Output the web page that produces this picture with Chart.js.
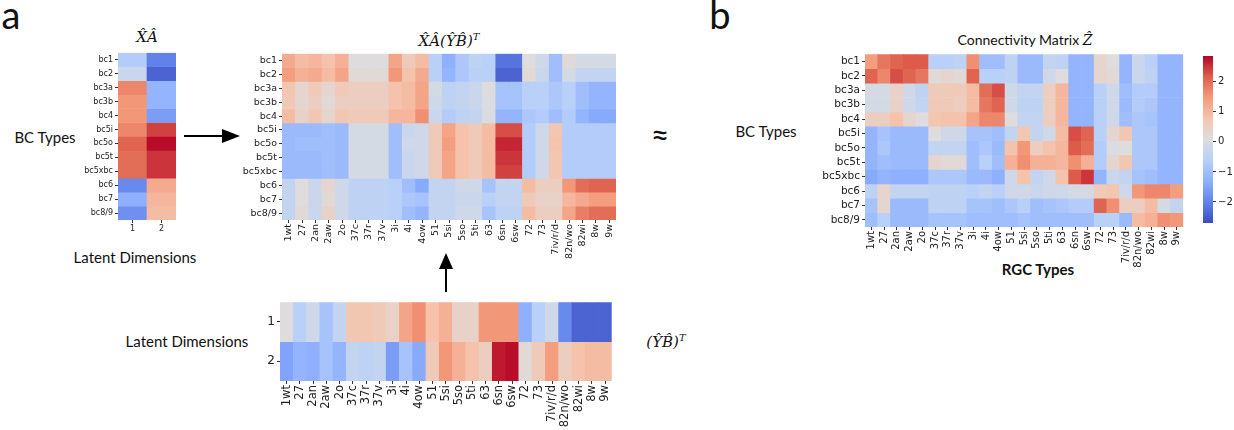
<!doctype html>
<html lang="en">
<head>
<meta charset="utf-8">
<title>Connectivity matrix factorisation</title>
<style>
  *{box-sizing:border-box;margin:0;padding:0}
  html,body{width:1234px;height:430px;overflow:hidden;background:#fff}
  #fig{position:relative;width:1234px;height:430px;font-family:'Lato',sans-serif;color:#111}
  #fig canvas{position:absolute}
  .t{position:absolute;white-space:nowrap;transform:translate(-50%,-50%)}
  .m{font-family:'DejaVu Serif',serif;font-style:italic}
  .lab{font-size:15px}
  .pl{font-size:38px;line-height:1}
  svg{position:absolute;left:0;top:0}
</style>
</head>
<body>
<div id="fig">
  <div class="t pl" style="left:11px;top:14px">a</div>
  <div class="t pl" style="left:720px;top:14px">b</div>

  <div class="t m" style="left:147px;top:37px;font-size:15px">X&#770;&#194;</div>
  <div class="t m" style="left:449px;top:40px;font-size:15px">X&#770;&#194;(&#374;B&#770;)<sup style="font-size:10px">T</sup></div>
  <div class="t" style="left:1025px;top:39px;font-size:14px">Connectivity Matrix <span class="m">&#7824;</span></div>

  <div class="t lab" style="left:45px;top:137px">BC Types</div>
  <div class="t lab" style="left:135px;top:257px">Latent Dimensions</div>
  <div class="t lab" style="left:187px;top:341px">Latent Dimensions</div>
  <div class="t m" style="left:666px;top:341px;font-size:15px">(&#374;B&#770;)<sup style="font-size:10px">T</sup></div>
  <div class="t" style="left:660px;top:133px;font-size:32px">&#8776;</div>
  <div class="t lab" style="left:766px;top:131px">BC Types</div>
  <div class="t" style="left:1038px;top:269px;font-size:15px;font-weight:700">RGC Types</div>

  <svg width="1234" height="430">
    <line x1="184" y1="136" x2="226" y2="136" stroke="#000" stroke-width="2"/>
    <polygon points="222,129 240,136 222,143" fill="#000"/>
    <line x1="446" y1="292" x2="446" y2="266" stroke="#000" stroke-width="2"/>
    <polygon points="439,269 446,253 453,269" fill="#000"/>
  </svg>

  <canvas id="hmXA"></canvas>
  <canvas id="hmProd"></canvas>
  <canvas id="hmYB"></canvas>
  <canvas id="hmZ"></canvas>
  <canvas id="cbar"></canvas>
</div>

<script src="https://cdn.jsdelivr.net/npm/chart.js"></script>
<script>
// labels
const RGC_TYPES = ['1wt','27','2an','2aw','2o','37c','37r','37v','3i','4i','4ow','51','5si','5so','5ti','63','6sn','6sw','72','73','7iv/r/d','82n/wo','82wi','8w','9w'];
const BC_TYPES  = ['bc1','bc2','bc3a','bc3b','bc4','bc5i','bc5o','bc5t','bc5xbc','bc6','bc7','bc8/9'];
const LATENT    = ['1','2'];
const CBAR_TICKS = [-2,-1,0,1,2];
const VMIN = -2.7, VMAX = 2.86;

// X^A^ : BC types x latent dims
const XA = [
  [-0.7,-2.0],[-0.3,-2.4],[1.7,-1.2],[1.5,-1.2],[1.5,-1.6],[1.7,2.4],
  [2.1,2.8],[2.0,2.5],[2.0,2.5],[-1.9,1.2],[-1.3,1.0],[-1.8,0.9]
];

// (Y^B^)^T : latent dims x RGC types
const YB_1 = [0.1,-0.6,-0.2,-0.9,-0.4, 0.7,0.7,0.6, 0.4,1.3,1.6, 0.8,1.1,0.4,0.4,1.5, 1.5,1.5, -1.3,-0.6,-0.2, -1.9,-2.4,-2.4,-2.4];
const YB_2 = [-1.5,-1.2,-1.3,-0.9,-1.2, -0.4,-0.5,-0.4, -1.6,-0.9,-1.4, 0.6,1.5,1.1,0.8,0.5, 2.7,2.8, 0.2,0.6,1.4, 0.5,0.8,0.9,0.9];

// X^A^(Y^B^)^T : BC types x RGC types
const PROD = [
  [1.2,0.9,1.0,0.8,1.1, 0.1,0.1,0.1, 1.3,0.6,0.9, -0.6,-1.3,-0.8,-0.5,-0.6, -2.2,-2.2, 0.1,-0.2,-1.0, 0.2,-0.1,-0.1,-0.1],
  [1.4,1.1,1.2,0.9,1.3, 0.2,0.2,0.2, 1.5,0.8,1.2, -0.6,-1.2,-0.8,-0.6,-0.6, -2.4,-2.4, 0.2,-0.3,-1.0, -0.1,-0.4,-0.4,-0.4],
  [0.7,0.3,0.6,0.3,0.6, 0.5,0.5,0.5, 0.8,0.9,1.3, -0.1,-0.5,-0.4,-0.3,0.1, -0.9,-0.9, -0.6,-0.6,-0.8, -0.6,-1.0,-1.2,-1.2],
  [0.6,0.3,0.5,0.2,0.5, 0.5,0.5,0.5, 0.8,0.9,1.3, -0.2,-0.5,-0.4,-0.3,0.0, -0.9,-0.9, -0.6,-0.6,-0.8, -0.6,-1.0,-1.2,-1.2],
  [0.9,0.4,0.7,0.3,0.7, 0.6,0.6,0.6, 1.0,1.0,1.6, -0.3,-0.7,-0.5,-0.4,0.0, -1.2,-1.2, -0.8,-0.7,-1.0, -0.7,-1.2,-1.4,-1.4],
  [-1.1,-1.1,-1.1,-1.0,-1.1, -0.1,-0.1,-0.1, -1.0,-0.3,-0.2, 0.6,1.3,0.8,0.6,0.9, 2.3,2.3, -0.7,-0.2,0.7, -0.7,-0.7,-0.7,-0.7],
  [-1.1,-1.0,-1.0,-1.0,-1.1, -0.1,-0.1,-0.1, -1.0,-0.2,-0.2, 0.6,1.4,0.8,0.6,0.9, 2.6,2.6, -0.7,-0.2,0.8, -0.7,-0.7,-0.7,-0.7],
  [-1.1,-1.1,-1.1,-1.0,-1.1, -0.1,-0.1,-0.1, -1.0,-0.3,-0.2, 0.6,1.3,0.8,0.6,0.9, 2.5,2.5, -0.7,-0.2,0.7, -0.7,-0.7,-0.7,-0.7],
  [-1.1,-1.1,-1.1,-1.0,-1.1, -0.1,-0.1,-0.1, -1.0,-0.3,-0.2, 0.6,1.3,0.8,0.6,0.9, 2.4,2.4, -0.7,-0.2,0.7, -0.7,-0.7,-0.7,-0.7],
  [-0.4,0.1,-0.3,0.3,-0.2, -0.5,-0.5,-0.5, -0.6,-1.0,-1.4, -0.4,-0.4,-0.2,-0.2,-0.9, -0.4,-0.4, 0.9,0.5,0.5, 1.5,2.0,2.1,2.1],
  [-0.4,0.1,-0.3,0.2,-0.2, -0.5,-0.5,-0.5, -0.6,-0.8,-0.9, -0.4,-0.4,-0.3,-0.3,-0.6, -0.4,-0.4, 0.6,0.4,0.4, 1.0,1.2,1.4,1.4],
  [-0.4,0.2,-0.3,0.4,-0.2, -0.5,-0.5,-0.5, -0.6,-1.0,-1.2, -0.4,-0.4,-0.2,-0.2,-0.9, -0.5,-0.5, 0.9,0.5,0.5, 1.3,1.8,2.0,2.0]
];

// Connectivity matrix Z^
const Z = [
  [1.4,1.9,2.1,2.2,2.2, -0.6,-0.6,-0.5, 1.6,-1.0,-1.0, -0.5,-1.1,-1.1,-0.4,-0.5, -1.2,-1.2, 0.3,0.1,-1.2, -0.3,-0.6,-1.2,-1.2],
  [2.1,1.7,2.3,2.1,1.9, 0.2,0.3,0.2, 2.1,-0.6,-0.6, -0.5,-1.1,-1.1,-0.2,0.1, -1.2,-1.2, 0.3,0.2,-1.2, -0.3,-0.5,-1.2,-1.2],
  [-0.1,-0.1,0.4,-0.2,-0.5, 0.6,0.6,0.6, 0.9,2.0,2.3, -0.2,-0.4,-0.4,0.5,1.0, -1.2,-1.2, -0.6,-0.2,-1.0, -0.7,-0.7,-1.2,-1.2],
  [-0.1,-0.1,0.4,-0.2,-0.4, 0.6,0.6,0.5, 0.9,1.9,2.1, -0.2,-0.5,-0.5,0.5,1.0, -1.2,-1.2, -0.6,-0.2,-1.1, -0.7,-0.8,-1.2,-1.2],
  [0.5,0.5,0.8,0.3,0.1, 0.7,0.8,0.8, 1.3,1.7,1.7, 0.1,-0.4,-0.4,0.5,1.0, -1.2,-1.2, -0.6,-0.2,-1.0, -0.8,-0.9,-1.2,-1.2],
  [-1.2,-0.9,-1.1,-1.1,-1.1, 0.1,-0.2,-0.2, -0.9,-0.9,-1.0, -0.4,0.7,-0.4,-0.2,0.9, 2.3,2.1, -0.6,0.3,0.7, -0.8,-0.8,-1.2,-1.2],
  [-1.2,-0.8,-1.1,-1.1,-1.1, -0.4,-0.4,-0.4, -1.0,-0.8,-1.1, 0.8,1.5,0.5,0.8,1.0, 2.2,2.0, -0.7,0.0,0.1, -0.8,-0.8,-1.2,-1.2],
  [-1.2,-1.0,-1.1,-1.1,-1.1, 0.3,0.2,0.2, -1.0,-0.6,-1.0, 1.1,1.6,1.1,1.1,1.0, 1.6,1.1, -0.7,0.3,0.7, -0.8,-0.8,-1.2,-1.2],
  [-1.4,-1.2,-1.3,-1.3,-1.3, -0.8,-0.8,-0.8, -1.1,-1.1,-1.3, -0.2,0.8,-0.4,-0.2,0.8, 2.2,2.5, -1.2,-0.3,-0.4, -0.9,-1.0,-1.2,-1.2],
  [-0.5,0.3,-0.4,-0.4,-0.4, -0.5,-0.5,-0.5, -0.6,-0.4,-0.6, -0.2,-0.2,-0.3,-0.2,-0.2, -0.1,-0.1, 0.6,0.7,-0.2, 1.5,1.7,1.7,1.4],
  [-0.9,0.3,-1.1,-1.1,-1.1, -0.5,-0.5,-0.5, -0.9,-0.9,-1.0, -0.8,-0.6,-1.0,-0.9,-0.8, -0.7,-0.7, 2.1,1.6,0.5, 0.5,0.9,-0.1,-0.4],
  [-1.0,-0.6,-1.1,-1.1,-1.1, -0.9,-0.9,-0.9, -1.0,-1.0,-1.0, -1.0,-0.9,-1.0,-1.0,-1.0, -1.0,-1.0, -0.6,-0.6,-1.1, 0.9,1.1,1.6,1.5]
];

// coolwarm
const CMAP = [[0,59,76,192],[0.125,98,130,234],[0.25,141,176,254],[0.375,184,208,249],[0.5,221,221,221],
              [0.625,245,196,173],[0.75,244,154,123],[0.875,222,96,77],[1,180,4,38]];
function cmapT(t){
  t = Math.max(0, Math.min(1, t));
  for (let i = 1; i < CMAP.length; i++) {
    if (t <= CMAP[i][0]) {
      const a = CMAP[i-1], b = CMAP[i], f = (t - a[0]) / (b[0] - a[0]);
      const c = [1,2,3].map(k => Math.round(a[k] + (b[k]-a[k])*f));
      return `rgb(${c[0]},${c[1]},${c[2]})`;
    }
  }
}
const cmap = v => cmapT((v - VMIN) / (VMAX - VMIN));

const TICK = '#333';
function heatmap(id, box, rowLabels, colLabels, values, o){
  const pad = 6, cv = document.getElementById(id);
  cv.width = box.w + o.yw + 2*pad; cv.height = box.h + o.xh + 2*pad;
  cv.style.left = (box.l - o.yw - pad) + 'px'; cv.style.top = (box.t - pad) + 'px';
  const datasets = values.map((row, r) => ({
    data: row.map(() => [r, r + 1]),
    backgroundColor: row.map(cmap),
    borderWidth: 0, barPercentage: 1, categoryPercentage: 1, grouped: false
  }));
  return new Chart(cv, {
    type: 'bar',
    data: { labels: colLabels, datasets },
    options: {
      responsive: false, animation: false, layout: { padding: pad },
      plugins: { legend: { display: false }, tooltip: { enabled: false } },
      scales: {
        x: {
          grid: { drawOnChartArea: false, offset: false, tickLength: 3, color: TICK },
          border: { display: false },
          ticks: { autoSkip: false, maxRotation: o.rot, minRotation: o.rot, padding: 1, color: '#222',
                   font: { family: 'DejaVu Sans', size: o.xfs } },
          afterFit(s){ s.height = o.xh; }
        },
        y: {
          min: 0, max: rowLabels.length, reverse: true,
          grid: { drawOnChartArea: false, tickLength: 3, color: TICK },
          border: { display: false },
          afterBuildTicks(s){ s.ticks = rowLabels.map((_, i) => ({ value: i + 0.5 })); },
          ticks: { callback: (v, i) => rowLabels[i], padding: 2, color: '#222',
                   font: { family: 'DejaVu Sans', size: o.yfs } },
          afterFit(s){ s.width = o.yw; }
        }
      }
    }
  });
}

heatmap('hmXA',   { l: 118, t: 52, w: 58,  h: 168 }, BC_TYPES, LATENT, XA,
        { yw: 40, xh: 16, rot: 0, xfs: 8, yfs: 8 });
heatmap('hmProd', { l: 282, t: 52, w: 334, h: 168 }, BC_TYPES, RGC_TYPES, PROD,
        { yw: 45, xh: 46, rot: 90, xfs: 9.5, yfs: 9.5 });
heatmap('hmYB',   { l: 280, t: 299, w: 334, h: 82 }, LATENT, RGC_TYPES, [YB_1, YB_2],
        { yw: 20, xh: 50, rot: 90, xfs: 11.5, yfs: 12 });
heatmap('hmZ',    { l: 865, t: 52, w: 319, h: 175 }, BC_TYPES, RGC_TYPES, Z,
        { yw: 56, xh: 42, rot: 90, xfs: 10, yfs: 10.5 });

// colorbar
(function(){
  const box = { l: 1203, t: 52, w: 10, h: 175 }, yw = 26, pad = 4;
  const cv = document.getElementById('cbar');
  cv.width = box.w + yw + 2*pad; cv.height = box.h + 2*pad;
  cv.style.left = (box.l - pad) + 'px'; cv.style.top = (box.t - pad) + 'px';
  new Chart(cv, {
    type: 'bar',
    data: { labels: ['z'], datasets: [{
      data: [[VMIN, VMAX]], borderWidth: 0, barPercentage: 1, categoryPercentage: 1,
      backgroundColor(ctx){
        const a = ctx.chart.chartArea;
        if (!a) return '#ddd';
        const g = ctx.chart.ctx.createLinearGradient(0, a.bottom, 0, a.top);
        CMAP.forEach(s => g.addColorStop(s[0], `rgb(${s[1]},${s[2]},${s[3]})`));
        return g;
      }
    }]},
    options: {
      responsive: false, animation: false, layout: { padding: pad },
      plugins: { legend: { display: false }, tooltip: { enabled: false } },
      scales: {
        x: { display: false },
        y: {
          position: 'right', min: VMIN, max: VMAX,
          grid: { drawOnChartArea: false, tickLength: 3, color: TICK },
          border: { display: false },
          afterBuildTicks(s){ s.ticks = CBAR_TICKS.map(v => ({ value: v })); },
          ticks: { callback: v => v < 0 ? '\u2212' + Math.abs(v) : String(v), padding: 2, color: '#222',
                   font: { family: 'DejaVu Sans', size: 10 } },
          afterFit(s){ s.width = yw; }
        }
      }
    }
  });
})();
</script>
</body>
</html>
